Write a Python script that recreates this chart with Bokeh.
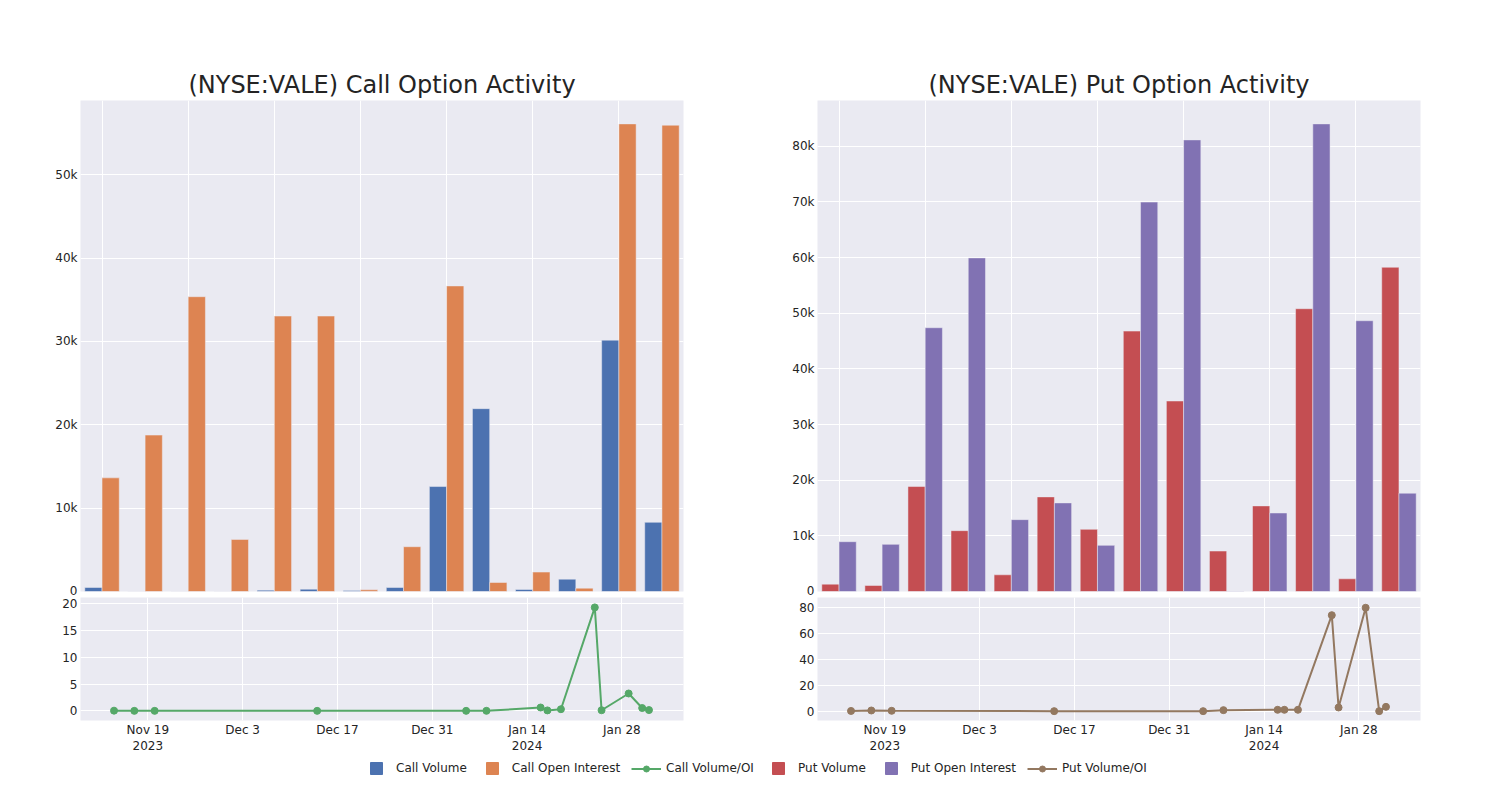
import pandas as pd
from bokeh.plotting import figure
from bokeh.models import (ColumnDataSource, Range1d, FixedTicker, NumeralTickFormatter,
                          Legend, LegendItem)
from bokeh.transform import dodge
from bokeh.layouts import column, row
from bokeh.embed import file_html
from bokeh.resources import INLINE

# ---------------- data ----------------
dates = ["2023-11-14", "2023-11-17", "2023-11-20", "2023-12-14", "2024-01-05", "2024-01-08",
         "2024-01-16", "2024-01-17", "2024-01-19", "2024-01-24", "2024-01-25", "2024-01-29",
         "2024-01-31", "2024-02-01"]
call_volume = [480, 0, 0, 0, 160, 280, 120, 480, 12590, 21930, 240, 1480, 30150, 8300]
call_oi = [13630, 18760, 35360, 6250, 33040, 33040, 200, 5370, 36650, 1080, 2330, 400, 56090, 55930]
call_ratio = [0.04, 0.0, 0.0, 0.0, 0.005, 0.01, 0.63, 0.09, 0.31, 19.35, 0.12, 3.25, 0.53, 0.15]
put_volume = [1320, 1080, 18860, 10930, 3000, 17000, 11170, 46790, 34230, 7270, 15380, 50810, 2280, 58260]
put_oi = [8950, 8470, 47390, 59940, 12910, 15920, 8290, 69970, 81140, 60, 14110, 84020, 48650, 17660]
put_ratio = [0.15, 0.5, 0.26, 0.0, 0.0, 0.77, 1.03, 1.03, 1.03, 73.8, 2.8, 79.5, 0.0, 3.3]

tick_dates = ["2023-11-19", "2023-12-03", "2023-12-17", "2023-12-31", "2024-01-14", "2024-01-28"]
tick_labels = ["Nov 19\n2023", "Dec 3", "Dec 17", "Dec 31", "Jan 14\n2024", "Jan 28"]
call_bar_ticks = [0, 10000, 20000, 30000, 40000, 50000]
put_bar_ticks = [0, 10000, 20000, 30000, 40000, 50000, 60000, 70000, 80000]
call_ratio_ticks = [0, 5, 10, 15, 20]
put_ratio_ticks = [0, 20, 40, 60, 80]

titles = ["(NYSE:VALE) Call Option Activity", "(NYSE:VALE) Put Option Activity"]
legend_labels = ["Call Volume", "Call Open Interest", "Call Volume/OI",
                 "Put Volume", "Put Open Interest", "Put Volume/OI"]

# ---------------- style ----------------
BLUE, ORANGE, GREEN = "#4C72B0", "#DD8452", "#55A868"
RED, PURPLE, BROWN = "#C44E52", "#8172B3", "#937860"
BG = "#EAEAF2"
TXT = "#242424"
FONT = "DejaVu Sans"

n = len(dates)
dt = pd.to_datetime(dates)
tick_ms = (pd.to_datetime(tick_dates).astype("int64") // 10**6).tolist()
overrides = {int(t): lab for t, lab in zip(tick_ms, tick_labels)}
x_start = dt[0] - pd.Timedelta(days=4.95)
x_end = dt[-1] + pd.Timedelta(days=5.1)


def style_axes(p):
    for ax in p.axis:
        ax.axis_line_color = None
        ax.major_tick_line_color = None
        ax.minor_tick_line_color = None
        ax.major_tick_out = 0
        ax.major_tick_in = 0
        ax.minor_tick_out = 0
        ax.minor_tick_in = 0
        ax.major_label_text_font = FONT
        ax.major_label_text_font_size = "12px"
        ax.major_label_text_color = TXT
        ax.major_label_standoff = 3
    p.grid.grid_line_color = "white"
    p.grid.grid_line_width = 1
    p.background_fill_color = BG
    p.border_fill_color = "white"
    p.outline_line_color = None


def bar_fig(title, vol, oi, c1, c2, yticks, mbl, mbr):
    ymax = max(max(vol), max(oi)) * 1.05
    p = figure(frame_width=603, frame_height=491, x_range=Range1d(-0.5, n - 0.5),
               y_range=Range1d(0, ymax), output_backend="svg", toolbar_location=None,
               min_border_left=mbl, min_border_right=mbr, min_border_top=100, min_border_bottom=6)
    src = ColumnDataSource(dict(idx=list(range(n)), vol=vol, oi=oi))
    p.vbar(x=dodge("idx", -0.2), top="vol", width=0.4, bottom=0, source=src,
           fill_color=c1, line_color=BG, line_width=0.5)
    p.vbar(x=dodge("idx", 0.2), top="oi", width=0.4, bottom=0, source=src,
           fill_color=c2, line_color=BG, line_width=0.5)
    p.title.text = title
    p.title.text_font = FONT
    p.title.text_font_size = "24px"
    p.title.text_font_style = "normal"
    p.title.text_color = TXT
    p.title.align = "center"
    p.title.standoff = 4
    style_axes(p)
    p.xaxis.visible = False
    p.xgrid.ticker = FixedTicker(ticks=list(range(0, n, 2)))
    p.yaxis.ticker = FixedTicker(ticks=yticks)
    p.ygrid.ticker = FixedTicker(ticks=yticks)
    p.yaxis.formatter = NumeralTickFormatter(format="0a")
    return p


def line_fig(ratio, color, yr, yticks, mbl, mbr):
    p = figure(x_axis_type="datetime", frame_width=603, frame_height=123,
               x_range=Range1d(x_start, x_end), y_range=Range1d(*yr),
               output_backend="svg", toolbar_location=None,
               min_border_left=mbl, min_border_right=mbr, min_border_top=0, min_border_bottom=36)
    src = ColumnDataSource(dict(d=dt, r=ratio))
    p.line("d", "r", source=src, line_color=color, line_width=2)
    p.scatter("d", "r", source=src, size=7, fill_color=color, line_color=color)
    style_axes(p)
    p.xaxis.ticker = FixedTicker(ticks=tick_ms)
    p.xgrid.ticker = FixedTicker(ticks=tick_ms)
    p.xaxis.major_label_overrides = overrides
    p.xaxis.major_label_standoff = 2
    p.yaxis.ticker = FixedTicker(ticks=yticks)
    p.ygrid.ticker = FixedTicker(ticks=yticks)
    return p


p1 = bar_fig(titles[0], call_volume, call_oi, BLUE, ORANGE, call_bar_ticks, 80, 62)
p2 = line_fig(call_ratio, GREEN, (-1.8, 21.2), call_ratio_ticks, 80, 62)
p3 = bar_fig(titles[1], put_volume, put_oi, RED, PURPLE, put_bar_ticks, 72, 72)
p4 = line_fig(put_ratio, BROWN, (-7.2, 87.4), put_ratio_ticks, 72, 72)

# ---------------- legend ----------------
lg = figure(width=1492, height=30, output_backend="svg", toolbar_location=None,
            x_axis_location=None, y_axis_location=None, min_border=0,
            x_range=Range1d(0, 1), y_range=Range1d(0, 1))
lg.grid.visible = False
lg.outline_line_color = None
lg.background_fill_color = "white"
lg.border_fill_color = "white"
nan_src = ColumnDataSource(dict(x=[float("nan")], y=[float("nan")]))


def sq(color):
    return lg.scatter("x", "y", source=nan_src, marker="square", size=12,
                      fill_color=color, line_color=color)


def ln(color):
    r1 = lg.line("x", "y", source=nan_src, line_color=color, line_width=2)
    r2 = lg.scatter("x", "y", source=nan_src, size=6, fill_color=color, line_color=color)
    return [r1, r2]


def make_legend(items, loc, gh):
    L = Legend(items=items, location=loc, orientation="horizontal", glyph_width=30,
               glyph_height=gh, label_standoff=5, spacing=10, padding=0, margin=0,
               border_line_color=None, background_fill_alpha=0,
               label_text_font=FONT, label_text_font_size="12px", label_text_color=TXT)
    lg.add_layout(L, "center")


make_legend([LegendItem(label=legend_labels[0], renderers=[sq(BLUE)]),
             LegendItem(label=legend_labels[1], renderers=[sq(ORANGE)])], (361, 3), 30)
make_legend([LegendItem(label=legend_labels[2], renderers=ln(GREEN))], (631, 10.5), 15)
make_legend([LegendItem(label=legend_labels[3], renderers=[sq(RED)]),
             LegendItem(label=legend_labels[4], renderers=[sq(PURPLE)])], (763, 3), 30)
make_legend([LegendItem(label=legend_labels[5], renderers=ln(BROWN))], (1027, 10.5), 15)

layout = column(row(column(p1, p2), column(p3, p4)), lg)

open("out.html", "w").write(file_html(layout, INLINE))
